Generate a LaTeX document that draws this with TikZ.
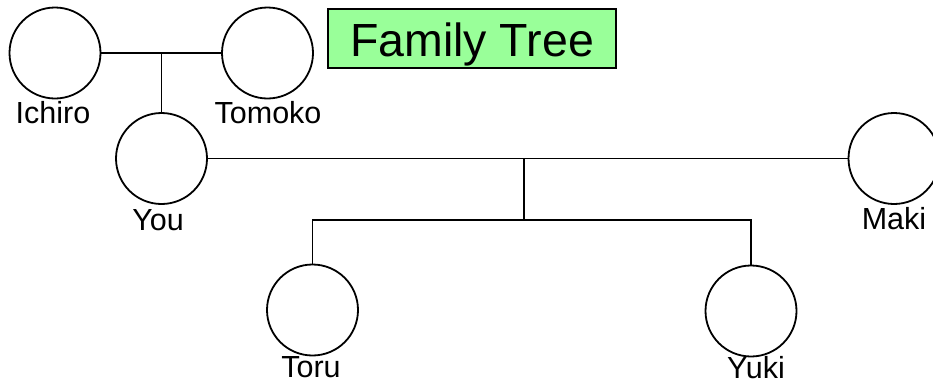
\documentclass[tikz,border=0pt]{standalone}
\usepackage{fontspec}
\setmainfont{Liberation Sans}
\definecolor{titlegreen}{RGB}{153,255,153}
\begin{document}
\begin{tikzpicture}[x=1pt,y=-1pt,
  person/.style={circle,draw=black,line width=1.8pt,minimum size=91pt,inner sep=0pt},
  lbl/.style={anchor=base,inner sep=0pt,font=\fontsize{30.5}{34}\selectfont},
  conn/.style={draw=black,line width=1.8pt},
  titlebox/.style={draw=black,line width=1.2pt,fill=titlegreen,minimum width=288pt,minimum height=59pt,
    inner sep=0pt,text height=36pt,text depth=0pt,font=\fontsize{46.5}{50}\selectfont}]
\useasboundingbox (0,0) rectangle (933,383);
% persons
\node[person] (ich) at (55,53) {};
\node[person] (tom) at (267.5,53) {};
\node[person] (you) at (161.5,158.5) {};
\node[person] (maki) at (894,158.5) {};
\node[person] (toru) at (312.5,310) {};
\node[person] (yuki) at (751,311) {};
% labels
\node[lbl] (ichl) at (53,123.3) {Ichiro};
\node[lbl] (toml) at (268,123.3) {Tomoko};
\node[lbl] (youl) at (158,230) {You};
\node[lbl] (makil) at (894,229) {Maki};
\node[lbl] (torul) at (311,377.5) {Toru};
\node[lbl] (yukil) at (756,378) {Yuki};
% title
\node[titlebox] (title) at (472,38.5) {Family Tree};
% connectors
\draw[conn] (ich.east) -- (tom.west);
\coordinate (m1) at (you.north |- ich.east);
\draw[conn] (m1) -- (you.north);
\draw[conn] (you.east) -- (maki.west);
\coordinate (m2) at (524.3,158.5);
\coordinate (bar) at (524.3,220);
\draw[conn] (m2) -- (bar);
\draw[conn] (toru.north) -- (toru.north |- bar) -- (yuki.north |- bar) -- (yuki.north);
\end{tikzpicture}
\end{document}
